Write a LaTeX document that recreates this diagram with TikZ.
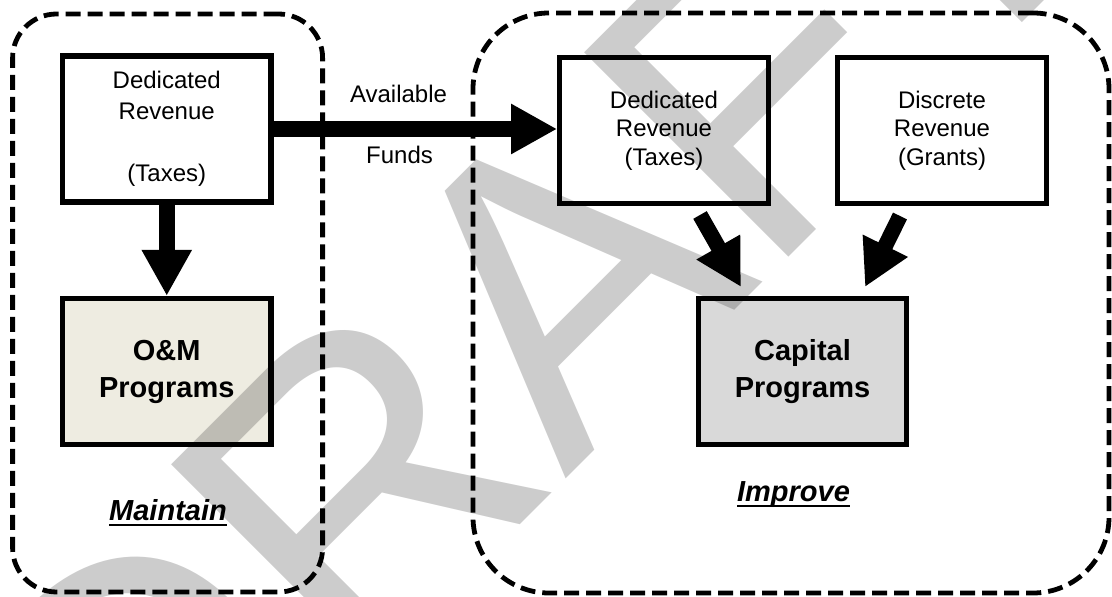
\documentclass[tikz,border=0pt]{standalone}
\usepackage{fontspec}
\setmainfont{Liberation Sans}
\usetikzlibrary{arrows.meta,positioning}
\definecolor{omfill}{HTML}{EEECE1}
\definecolor{capfill}{HTML}{D9D9D9}
\definecolor{draftgray}{HTML}{CCCCCC}
\tikzset{
  box/.style = {draw=black, line width=2.6pt, rectangle, minimum width=104.25pt, minimum height=73pt, inner sep=0pt, align=center, font=\fontsize{12}{14.25}\selectfont},
  prog/.style = {box, font=\bfseries\fontsize{14.5}{18.5}\selectfont},
  group/.style = {draw=black, line width=2.4pt, dash pattern=on 7.5pt off 3.5pt, rectangle, inner sep=0pt},
  flow/.style = {line width=7.75pt, -{Triangle[length=23pt, width=23.5pt]}},
  tag/.style = {anchor=base, inner sep=0pt, font=\fontsize{12}{14}\selectfont},
  area/.style = {anchor=base, inner sep=0pt, font=\bfseries\itshape\fontsize{14.5}{17}\selectfont}
}
\newcommand{\ulword}[1]{\setbox0\hbox{#1}\rlap{\rule[-2.6pt]{\wd0}{1.3pt}}\box0}

\begin{document}
\begin{tikzpicture}[x=0.5pt, y=-0.5pt]
  \useasboundingbox (0,0) rectangle (1112,597);
  % dashed groups
  \node[group, rounded corners=22pt, minimum width=155pt, minimum height=289pt] (maintainbox) at (167.6,303) {};
  \node[group, rounded corners=38pt, minimum width=318pt, minimum height=290pt] (improvebox) at (791,303) {};
  % boxes
  \node[box, font=\fontsize{12}{15.5}\selectfont] (dedL) at (166.75,129) {Dedicated\\Revenue\\[15.5pt](Taxes)};
  \node[prog, fill=omfill] (om) at (166.75,371.5) {O\&M\\Programs};
  \node[box] (dedR) at (664,130.5) {Dedicated\\Revenue\\(Taxes)};
  \node[box] (disc) at (942,130.5) {Discrete\\Revenue\\(Grants)};
  \node[prog, fill=capfill] (cap) at (802.5,371.5) {Capital\\Programs};
  % labels
  \node[tag] (avail) at (398.5,103) {Available};
  \node[tag] (funds) at (399.5,164) {Funds};
  \node[area] (maintain) at (168,521) {\ulword{Maintain}};
  \node[area] (improve) at (793.5,502) {\ulword{Improve}};
  % arrows
  \coordinate (out1) at (700,215);
  \coordinate (in1) at (741,287);
  \coordinate (out2) at (900,216);
  \coordinate (in2) at (865,287);
  \draw[flow] (dedL.south) -- (om.north);
  \draw[flow] (dedL.east) -- (dedL.east -| dedR.west);
  \draw[flow] (out1) -- (in1);
  \draw[flow] (out2) -- (in2);
  % watermark
  \begin{scope}[blend mode=multiply]
    \clip (0,0) rectangle (1112,597);
    \node[text=draftgray, rotate=45, anchor=base, inner sep=0pt, font=\fontsize{210}{210}\selectfont] (draft) at (632,413) {DRAFT};
  \end{scope}
\end{tikzpicture}
\end{document}
